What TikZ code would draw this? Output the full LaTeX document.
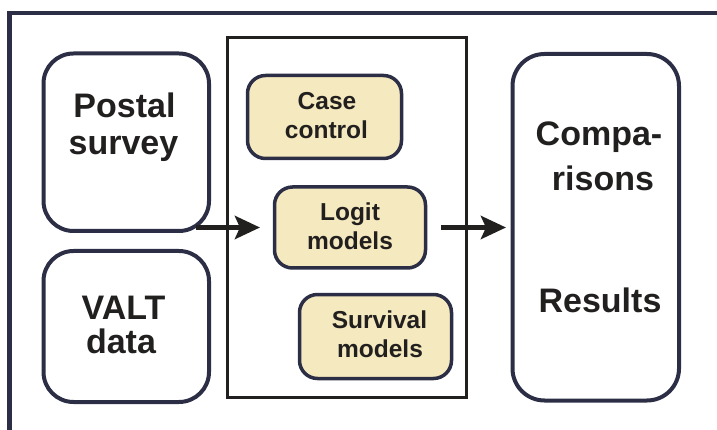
\documentclass[tikz,border=0pt]{standalone}
\usepackage{fontspec}
\setmainfont{Liberation Sans}
\usetikzlibrary{arrows.meta}

\definecolor{navy}{HTML}{2B2E45}
\definecolor{ink}{HTML}{221F1F}
\definecolor{cream}{HTML}{F5E9BF}

\begin{document}
\begin{tikzpicture}[x=1pt,y=-1pt,
  sourcebox/.style={draw=navy, line width=4pt, rounded corners=30pt,
    inner sep=0pt, outer sep=0pt},
  methodbox/.style={draw=navy, fill=cream, line width=3.5pt, rounded corners=18pt,
    inner sep=0pt, outer sep=0pt},
  groupbox/.style={draw=ink, line width=3pt, inner sep=0pt, outer sep=0pt},
  bigtext/.style={text=ink, anchor=base, inner sep=0pt,
    font=\bfseries\fontsize{34}{37}\selectfont},
  smalltext/.style={text=ink, anchor=base, inner sep=0pt,
    font=\bfseries\fontsize{24.5}{29}\selectfont},
  flow/.style={draw=ink, line width=5pt,
    -{Stealth[length=25pt,width=23pt,inset=5pt]}}]

\useasboundingbox (0,0) rectangle (717,430);

% frame along the top and left edges
\draw[navy, line width=4.5pt, line join=miter] (9.5,432) -- (9.5,13) -- (719,13);

% data sources
\node[sourcebox, minimum width=165.5pt, minimum height=177.5pt] (postal) at (126.25,142.25) {};
\node[sourcebox, minimum width=165.5pt, minimum height=151pt] (valt) at (126.25,326.5) {};
\node[bigtext] (postalA) at (124.5,118) {Postal};
\node[bigtext] (postalB) at (123.5,155) {survey};
\node[bigtext] (valtA) at (123.5,319) {VALT};
\node[bigtext] (valtB) at (121,353) {data};

% analysis methods
\node[groupbox, minimum width=239.5pt, minimum height=359pt] (methods) at (346.75,217.5) {};
\node[methodbox, minimum width=154pt, minimum height=83pt] (case) at (324.5,117) {};
\node[methodbox, minimum width=151pt, minimum height=81pt] (logit) at (350,227.5) {};
\node[methodbox, minimum width=152pt, minimum height=84pt] (surv) at (375.5,336.5) {};
\node[smalltext] (caseA) at (327,110) {Case};
\node[smalltext] (caseB) at (326.5,139) {control};
\node[smalltext] (logitA) at (350,221) {Logit};
\node[smalltext] (logitB) at (350,250) {models};
\node[smalltext] (survA) at (379.5,328) {Survival};
\node[smalltext] (survB) at (380,357) {models};

% outcome
\node[sourcebox, rounded corners=32pt, minimum width=166.5pt, minimum height=346.5pt] (out) at (595.75,227.25) {};
\node[bigtext] (outA) at (599,146) {Compa-};
\node[bigtext] (outB) at (603,191) {risons};
\node[bigtext] (outC) at (600,312) {Results};

% flow arrows
\coordinate (inTail) at (196,227.5);
\draw[flow] (inTail) -- ([xshift=-14.5pt]logit.west);
\draw[flow] ([xshift=15.5pt]logit.east) -- ([xshift=-6.5pt]out.west |- logit.east);

\end{tikzpicture}
\end{document}
